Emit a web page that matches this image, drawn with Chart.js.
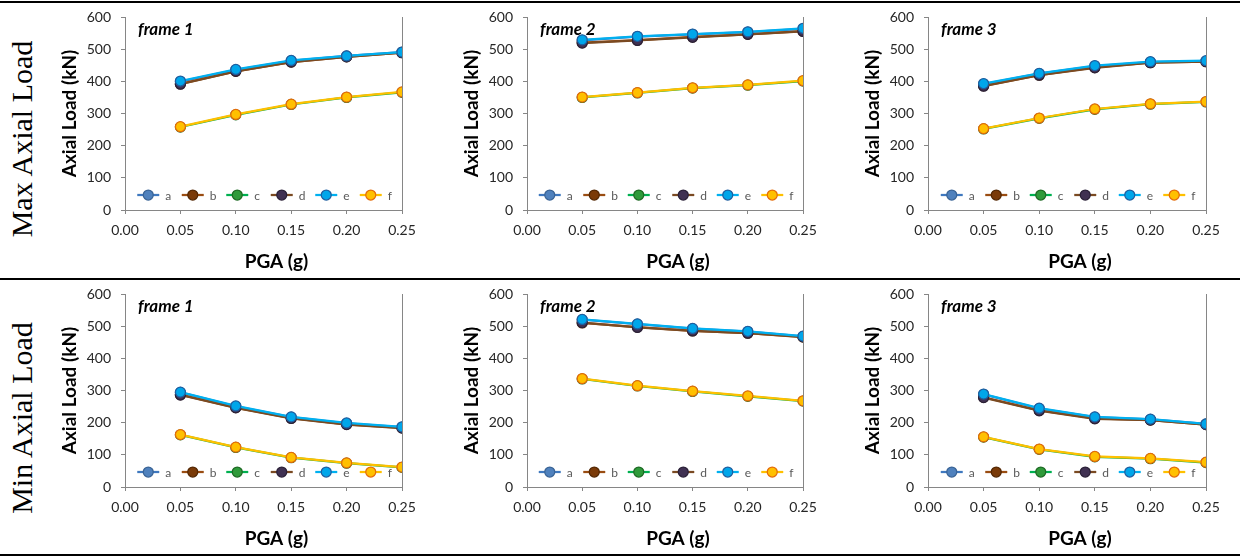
<!DOCTYPE html>
<html>
<head>
<meta charset="utf-8">
<script src="https://cdn.jsdelivr.net/npm/chart.js@4/dist/chart.umd.min.js"></script>
<style>
  body { margin: 0; background: #fff; }
  #page { position: relative; width: 1240px; height: 557px; overflow: hidden; background: #fff; }
  canvas { position: absolute; }
  .rule { position: absolute; left: 0; width: 1240px; height: 2px; background: #000; }
  .rowlab {
    position: absolute; width: 260px; text-align: center;
    font-family: "Liberation Serif", serif; font-size: 30px; color: #000;
    transform: translate(-50%, -50%) rotate(-90deg); white-space: nowrap;
  }
</style>
</head>
<body>
<div id="page">
  <div class="rule" style="top:1px"></div>
  <div class="rule" style="top:278px"></div>
  <div class="rule" style="top:554px"></div>
  <div class="rowlab" style="left:22px;top:139px">Max Axial Load</div>
  <div class="rowlab" style="left:22px;top:418px">Min Axial Load</div>
  <canvas id="c1" width="384" height="272" style="left:40px;top:4px"></canvas>
  <canvas id="c2" width="383" height="272" style="left:442px;top:4px"></canvas>
  <canvas id="c3" width="385" height="272" style="left:843px;top:4px"></canvas>
  <canvas id="c4" width="384" height="272" style="left:40px;top:281px"></canvas>
  <canvas id="c5" width="383" height="272" style="left:442px;top:281px"></canvas>
  <canvas id="c6" width="385" height="272" style="left:843px;top:281px"></canvas>
</div>
<script>
// PGA (g) values on the x axis
const pga = [0.05, 0.10, 0.15, 0.20, 0.25];
const seriesNames = ["a", "b", "c", "d", "e", "f"];

// Max axial load (kN), frame 1
const max1a = [399, 436, 464, 479, 491];
const max1b = [392, 431, 460, 476, 489];
const max1c = [258, 296, 328, 350, 366];
const max1d = [391, 431, 460, 476, 489];
const max1e = [401, 437, 465, 479, 491];
const max1f = [259, 297, 329, 351, 367];
// Max axial load (kN), frame 2
const max2a = [527, 539, 546, 553, 563];
const max2b = [520, 528, 538, 546, 556];
const max2c = [350, 364, 379, 388, 401];
const max2d = [519, 527, 537, 546, 555];
const max2e = [529, 540, 547, 554, 565];
const max2f = [351, 365, 380, 389, 402];
// Max axial load (kN), frame 3
const max3a = [391, 424, 447, 460, 463];
const max3b = [386, 419, 443, 458, 461];
const max3c = [252, 285, 313, 329, 336];
const max3d = [385, 419, 442, 458, 461];
const max3e = [393, 425, 449, 461, 464];
const max3f = [253, 286, 314, 330, 337];
// Min axial load (kN), frame 1
const min1a = [294, 251, 217, 198, 186];
const min1b = [287, 247, 214, 195, 184];
const min1c = [162, 123, 91, 74, 61];
const min1d = [286, 246, 213, 194, 183];
const min1e = [295, 252, 218, 199, 187];
const min1f = [163, 124, 92, 75, 62];
// Min axial load (kN), frame 2
const min2a = [520, 506, 492, 483, 468];
const min2b = [510, 497, 485, 478, 466];
const min2c = [336, 314, 297, 282, 267];
const min2d = [511, 496, 485, 478, 467];
const min2e = [521, 507, 493, 484, 469];
const min2f = [337, 315, 298, 283, 268];
// Min axial load (kN), frame 3
const min3a = [288, 244, 217, 210, 196];
const min3b = [279, 238, 213, 208, 194];
const min3c = [155, 117, 94, 88, 76];
const min3d = [278, 237, 212, 208, 194];
const min3e = [289, 245, 218, 211, 196];
const min3f = [156, 118, 95, 89, 77];

const yTicks = [0, 100, 200, 300, 400, 500, 600];
const xTicks = [0, 0.05, 0.1, 0.15, 0.2, 0.25];

// line colour, marker fill, marker border for a..f
const lineCols = ["#3f78bf", "#9a4d12", "#00b050", "#7a4a22", "#00b0f0", "#ffc000"];
const fillCols = ["#4f81bd", "#7a3a08", "#2f9a3a", "#403152", "#00a6ea", "#ffc000"];
const edgeCols = ["#3a6496", "#542804", "#1e6a24", "#2b2138", "#1f5fa0", "#e46c0a"];

const FONT = "Lato, 'Open Sans', sans-serif";

const decor = {
  id: "decor",
  afterDraw(chart, args, opts) {
    const { ctx, chartArea: a } = chart;
    ctx.save();
    // right border of plot area
    ctx.strokeStyle = "#868686";
    ctx.lineWidth = 1;
    ctx.beginPath();
    ctx.moveTo(a.right + 0.5, a.top);
    ctx.lineTo(a.right + 0.5, a.bottom);
    ctx.stroke();

    // frame label
    ctx.fillStyle = "#000";
    ctx.font = "italic bold 17px " + FONT;
    ctx.textBaseline = "middle";
    ctx.textAlign = "left";
    ctx.fillText(opts.label, a.left + 13, a.top + 13);

    // x axis title
    ctx.font = "bold 19px " + FONT;
    ctx.textAlign = "center";
    ctx.fillText("PGA (g)", (a.left + a.right) / 2 + 13, 258);

    // legend inside the plot
    const pitch = 44.5;
    const span = 5 * pitch + 34;
    let x0 = (a.left + a.right) / 2 - span / 2 + 2;
    const y = a.bottom - 15;
    ctx.font = "12px " + FONT;
    ctx.textAlign = "left";
    chart.data.datasets.forEach((ds, i) => {
      const sx = x0 + i * pitch;
      ctx.strokeStyle = ds.borderColor;
      ctx.lineWidth = 2.25;
      ctx.beginPath();
      ctx.moveTo(sx, y);
      ctx.lineTo(sx + 22, y);
      ctx.stroke();
      ctx.beginPath();
      ctx.arc(sx + 11, y, 5, 0, Math.PI * 2);
      ctx.fillStyle = ds.pointBackgroundColor;
      ctx.fill();
      ctx.strokeStyle = ds.pointBorderColor;
      ctx.lineWidth = 1.25;
      ctx.stroke();
      ctx.fillStyle = "#595959";
      ctx.fillText(ds.label, sx + 28, y + 1);
    });
    ctx.restore();
  },
};

function drawPanel(id, label, series) {
  const datasets = series.map((vals, i) => ({
    label: seriesNames[i],
    data: pga.map((x, j) => ({ x: x, y: vals[j] })),
    order: series.length - 1 - i, // later series drawn on top, as in the source chart
    borderColor: lineCols[i],
    backgroundColor: fillCols[i],
    pointBackgroundColor: fillCols[i],
    pointBorderColor: edgeCols[i],
    pointBorderWidth: 1.25,
    pointRadius: 5,
    borderWidth: 2.25,
    tension: 0,
  }));

  const config = {
    type: "line",
    data: { datasets: datasets },
    options: {
      responsive: false,
      animation: false,
      layout: { padding: { top: 13, right: 22, left: 0, bottom: 0 } },
      scales: {
        x: {
          type: "linear",
          min: 0,
          max: 0.25,
          afterFit: (s) => { s.height = 66; s.paddingLeft = 0; s.paddingRight = 0; },
          afterBuildTicks: (s) => { s.ticks = xTicks.map((v) => ({ value: v })); },
          ticks: {
            padding: 8,
            color: "#262626",
            font: { family: FONT, size: 14 },
            callback: (v) => Number(v).toFixed(2),
          },
          grid: { drawOnChartArea: false, drawTicks: true, tickLength: 4, color: "#868686" },
          border: { color: "#868686" },
        },
        y: {
          min: 0,
          max: 600,
          afterFit: (s) => { s.width = 85; s.paddingTop = 0; s.paddingBottom = 0; },
          afterBuildTicks: (s) => { s.ticks = yTicks.map((v) => ({ value: v })); },
          ticks: {
            padding: 10,
            color: "#262626",
            font: { family: FONT, size: 14 },
          },
          grid: { drawOnChartArea: false, drawTicks: true, tickLength: 4, color: "#868686" },
          border: { color: "#868686" },
          title: {
            display: true,
            text: "Axial Load (kN)",
            color: "#000",
            font: { family: FONT, size: 19, weight: "bold" },
            padding: { top: 18, bottom: 0 },
          },
        },
      },
      plugins: {
        legend: { display: false },
        tooltip: { enabled: false },
        decor: { label: label },
      },
    },
    plugins: [decor],
  };
  new Chart(document.getElementById(id).getContext("2d"), config);
}

drawPanel("c1", "frame 1", [max1a, max1b, max1c, max1d, max1e, max1f]);
drawPanel("c2", "frame 2", [max2a, max2b, max2c, max2d, max2e, max2f]);
drawPanel("c3", "frame 3", [max3a, max3b, max3c, max3d, max3e, max3f]);
drawPanel("c4", "frame 1", [min1a, min1b, min1c, min1d, min1e, min1f]);
drawPanel("c5", "frame 2", [min2a, min2b, min2c, min2d, min2e, min2f]);
drawPanel("c6", "frame 3", [min3a, min3b, min3c, min3d, min3e, min3f]);
</script>
</body>
</html>
